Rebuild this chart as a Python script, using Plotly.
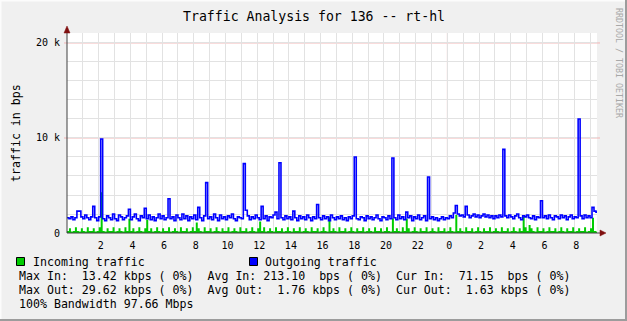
import plotly.graph_objects as go

# ---------------- data ----------------
# samples every 7.5 minutes (0.125 h), starting at midnight of day 1
outgoing_k = [
    1.6, 1.5, 1.7, 1.4, 1.6, 2.3, 2.3, 1.7,
    1.5, 1.9, 1.6, 1.4, 1.7, 2.8, 1.6, 1.3,
    1.7, 9.9, 1.5, 1.3, 1.8, 1.6, 1.4, 2.0,
    1.5, 1.3, 1.9, 1.7, 1.4, 1.6, 1.8, 2.5,
    1.4, 1.7, 2.0, 1.5, 1.3, 1.8, 1.6, 2.6,
    1.5, 1.9, 1.4, 1.7, 1.3, 1.6, 2.0, 1.5,
    1.8, 1.4, 1.6, 3.6, 1.5, 1.7, 1.3, 1.9,
    1.6, 1.4, 2.0, 1.5, 1.8, 1.3, 1.7, 1.5,
    1.9, 1.4, 2.7, 1.6, 1.3, 1.8, 5.3, 1.5,
    1.7, 1.4, 2.0, 1.6, 1.3, 1.9, 1.5, 1.7,
    1.4, 1.8, 1.6, 2.0, 1.5, 1.3, 1.7, 1.6,
    1.5, 7.3, 2.4, 1.8, 1.4, 1.7, 1.5, 1.9,
    1.6, 1.4, 2.8, 1.5, 1.8, 1.3, 1.7, 1.6,
    1.9, 2.2, 1.5, 7.4, 1.6, 1.4, 1.8, 1.5,
    1.7, 1.4, 2.3, 1.6, 1.3, 1.8, 1.5, 1.7,
    1.4, 1.9, 1.6, 1.3, 1.7, 1.5, 3.0, 1.6,
    1.4, 1.8, 1.5, 1.7, 1.3, 1.9, 1.6, 1.4,
    1.7, 1.5, 1.8, 1.4, 1.6, 1.3, 1.7, 1.5,
    1.8, 8.0, 1.5, 1.4, 1.7, 1.6, 1.3, 1.8,
    1.5, 1.7, 1.4, 1.6, 1.9, 1.5, 1.3, 1.7,
    1.6, 1.4, 1.8, 1.5, 7.9, 1.6, 1.4, 1.9,
    1.5, 1.7, 1.4, 2.2, 1.6, 1.8, 1.3, 1.7,
    1.5, 1.9, 1.4, 1.6, 1.8, 1.3, 5.9, 1.5,
    1.7, 1.4, 1.6, 1.3, 1.5, 1.7, 1.4, 1.6,
    1.5, 1.8, 1.6, 2.1, 2.9, 2.0, 1.8, 1.9,
    1.7, 2.8, 1.9, 1.6, 1.8, 2.0, 1.7, 1.9,
    1.6, 1.8, 2.0, 1.7, 1.9, 1.6, 1.8, 1.5,
    1.8, 1.6, 1.9, 1.7, 8.8, 1.8, 1.6, 1.9,
    1.7, 1.5, 1.8, 2.0, 1.6, 1.4, 1.8, 1.7,
    1.9, 1.6, 1.5, 1.8, 1.4, 1.7, 1.6, 3.4,
    1.6, 1.8, 1.5, 1.9, 1.6, 1.4, 1.8, 1.7,
    1.5, 1.9, 1.6, 1.8, 1.4, 1.7, 1.9, 1.5,
    1.7, 1.6, 12.0, 1.8, 1.5, 1.9, 1.6, 1.8,
    1.6, 2.7, 2.3, 2.2, 1.63,
]

incoming_k = [
    0.2, 0.5, 0.15, 0.2, 0.6, 0.2, 0.15, 0.5,
    0.2, 0.15, 0.6, 0.2, 0.2, 0.5, 0.15, 0.2,
    0.6, 4.3, 0.2, 0.15, 0.5, 0.2, 0.2, 0.6,
    0.15, 0.2, 0.5, 0.2, 0.15, 0.6, 0.2, 1.5,
    0.2, 0.5, 0.15, 0.2, 0.6, 0.2, 0.15, 0.5,
    1.4, 0.2, 0.5, 0.15, 0.2, 0.6, 0.2, 0.15,
    0.5, 0.2, 0.2, 0.6, 0.15, 0.2, 0.5, 0.2,
    0.15, 0.6, 0.2, 0.2, 0.5, 0.15, 0.2, 0.6,
    0.2, 1.1, 0.5, 0.2, 0.15, 0.6, 0.2, 0.2,
    0.5, 0.15, 0.2, 0.6, 0.2, 0.15, 0.5, 0.2,
    0.2, 0.6, 0.15, 0.2, 0.5, 0.2, 0.15, 0.6,
    0.2, 0.2, 0.5, 0.15, 0.2, 0.6, 0.2, 0.15,
    0.5, 1.2, 0.2, 0.6, 0.15, 0.2, 0.5, 0.2,
    0.15, 0.6, 0.2, 0.2, 0.5, 0.15, 0.2, 0.6,
    0.2, 0.15, 0.5, 0.2, 0.2, 0.6, 0.15, 0.2,
    0.5, 0.2, 0.15, 0.6, 0.2, 0.2, 0.5, 0.15,
    0.2, 0.6, 0.2, 0.15, 1.65, 0.2, 0.5, 0.2,
    0.15, 0.6, 0.2, 0.2, 0.5, 0.15, 0.2, 0.6,
    0.2, 0.15, 0.5, 0.2, 0.2, 0.6, 0.15, 0.2,
    0.5, 0.2, 0.15, 0.6, 0.2, 0.2, 0.5, 0.15,
    0.2, 0.6, 0.2, 0.15, 1.55, 0.2, 0.5, 0.2,
    0.15, 0.6, 0.2, 1.5, 0.5, 0.15, 0.2, 0.6,
    0.2, 0.15, 0.5, 0.2, 0.2, 0.6, 0.15, 0.2,
    0.5, 0.2, 0.15, 0.6, 0.2, 0.2, 0.5, 0.15,
    0.2, 0.6, 0.2, 0.15, 1.9, 0.2, 0.5, 0.2,
    0.15, 0.6, 0.2, 0.2, 0.5, 0.15, 0.2, 0.6,
    0.2, 0.15, 0.5, 0.2, 0.2, 0.6, 0.15, 0.2,
    0.5, 0.2, 0.15, 0.6, 0.2, 0.2, 0.5, 0.15,
    0.2, 0.6, 0.2, 0.15, 0.5, 0.2, 1.7, 0.6,
    0.2, 0.85, 0.5, 0.2, 0.15, 0.6, 0.2, 0.2,
    0.5, 0.15, 0.2, 0.6, 0.2, 0.2, 0.5, 0.15,
    0.2, 0.6, 0.2, 0.15, 0.5, 0.2, 0.2, 0.6,
    0.15, 0.2, 0.5, 0.2, 0.2, 0.6, 0.15, 0.2,
    0.5, 1.6, 0.2, 0.15, 0.07,
]

sample_step_h = 0.125
hours = [i * sample_step_h for i in range(len(outgoing_k))]

x_tick_hours = list(range(0, 34))
x_tick_text = [str(h % 24) if (h % 2 == 0 and h > 0) else "" for h in x_tick_hours]
y_tick_vals = [0, 2, 4, 6, 8, 10, 12, 14, 16, 18, 20]
y_tick_text = ["0", "", "", "", "", "10 k", "", "", "", "", "20 k"]

title = "Traffic Analysis for 136 -- rt-hl"
y_title = "traffic in bps"
legend_in = "Incoming traffic"
legend_out = "Outgoing traffic"
stat_lines = [
    "Max In:  13.42 kbps ( 0%)  Avg In: 213.10  bps ( 0%)  Cur In:  71.15  bps ( 0%)",
    "Max Out: 29.62 kbps ( 0%)  Avg Out:  1.76 kbps ( 0%)  Cur Out:  1.63 kbps ( 0%)",
    "100% Bandwidth 97.66 Mbps",
]
credit = "RRDTOOL / TOBI OETIKER"

# ---------------- layout geometry ----------------
W_FIG, H_FIG = 627, 321
L, R, T, B = 67, 597, 33, 233
PW, PH = R - L, B - T
X_MAX = 33.44
Y_MAX = 21.05

def px(x):
    return (x - L) / PW

def py(y):
    return (B - y) / PH

MONO = "DejaVu Sans Mono"
GREEN = "#00cc00"
BLUE = "#0000ff"
GRID = "#e2e2e2"
MGRID = "#f2b4b4"
ARROW = "#801010"
AXIS = "#404040"

def nb(s):
    return s.replace(" ", "\u00a0")

fig = go.Figure()
fig.add_trace(go.Scatter(
    x=hours, y=incoming_k, mode="lines", line=dict(shape="hv", width=0, color=GREEN),
    fill="tozeroy", fillcolor=GREEN, showlegend=False, hoverinfo="skip"))
fig.add_trace(go.Scatter(
    x=hours, y=outgoing_k, mode="lines", line=dict(shape="hv", width=1.6, color=BLUE),
    showlegend=False, hoverinfo="skip"))

shapes = []
# major grid lines
shapes.append(dict(type="line", xref="x", yref="paper", x0=24, x1=24, y0=0, y1=1,
                   line=dict(color=MGRID, width=1), layer="below"))
for yv in (10, 20):
    shapes.append(dict(type="line", xref="paper", yref="y", x0=px(64), x1=px(600), y0=yv, y1=yv,
                       line=dict(color=MGRID, width=1), layer="below"))
# axes with arrows
shapes.append(dict(type="line", xref="paper", yref="paper", x0=px(67), x1=px(601), y0=py(233), y1=py(233),
                   line=dict(color=AXIS, width=1)))
shapes.append(dict(type="line", xref="paper", yref="paper", x0=px(67), x1=px(67), y0=py(233), y1=py(30),
                   line=dict(color=AXIS, width=1)))
shapes.append(dict(type="path", xref="paper", yref="paper",
                   path=f"M {px(600)} {py(230)} L {px(606)} {py(233)} L {px(600)} {py(236)} Z",
                   fillcolor=ARROW, line=dict(color=ARROW, width=0.5)))
shapes.append(dict(type="path", xref="paper", yref="paper",
                   path=f"M {px(64)} {py(33)} L {px(67)} {py(26)} L {px(70)} {py(33)} Z",
                   fillcolor=ARROW, line=dict(color=ARROW, width=0.5)))
# legend squares
shapes.append(dict(type="rect", xref="paper", yref="paper", x0=px(16.5), x1=px(24.5), y0=py(265.5), y1=py(257.5),
                   fillcolor=GREEN, line=dict(color="#000000", width=1)))
shapes.append(dict(type="rect", xref="paper", yref="paper", x0=px(249.5), x1=px(257.5), y0=py(265.5), y1=py(257.5),
                   fillcolor=BLUE, line=dict(color="#000000", width=1)))
# frame
shapes.append(dict(type="rect", xref="paper", yref="paper", x0=px(0), x1=px(1.5), y0=py(0), y1=py(321),
                   fillcolor="#fcfcfc", line=dict(width=0)))
shapes.append(dict(type="rect", xref="paper", yref="paper", x0=px(0), x1=px(627), y0=py(0), y1=py(1.5),
                   fillcolor="#fcfcfc", line=dict(width=0)))
shapes.append(dict(type="rect", xref="paper", yref="paper", x0=px(625), x1=px(627), y0=py(0), y1=py(321),
                   fillcolor="#9c9c9c", line=dict(width=0)))
shapes.append(dict(type="rect", xref="paper", yref="paper", x0=px(0), x1=px(627), y0=py(319), y1=py(321),
                   fillcolor="#9c9c9c", line=dict(width=0)))

annotations = []
def txt(s, x, y, size, xanchor="left", color="#000000", angle=0):
    annotations.append(dict(text=nb(s), x=px(x), y=py(y), xref="paper", yref="paper",
                            xanchor=xanchor, yanchor="middle", showarrow=False, textangle=angle,
                            font=dict(family=MONO, size=size, color=color)))

txt(title, 313.5, 17, 13.2, xanchor="center")
txt(y_title, 16, 133, 11.6, xanchor="center", angle=-90)
txt(credit, 619, 63, 8.3, xanchor="center", color="#a8a8a8", angle=90)
txt(legend_in, 31, 261.5, 11.6)
txt(legend_out, 263, 261.5, 11.6)
for i, line in enumerate(stat_lines):
    txt(line, 16.5, 275.5 + 14 * i, 11.6)

fig.update_layout(
    width=W_FIG, height=H_FIG,
    margin=dict(l=L, r=W_FIG - R, t=T, b=H_FIG - B, pad=0),
    paper_bgcolor="#f0f0f0", plot_bgcolor="#ffffff",
    shapes=shapes, annotations=annotations,
    xaxis=dict(range=[0, X_MAX], tickmode="array", tickvals=x_tick_hours, ticktext=x_tick_text,
               showgrid=True, gridcolor=GRID, gridwidth=1, zeroline=False, showline=False,
               ticks="", ticklabelstandoff=5, ticklabelshift=2, tickangle=0,
               tickfont=dict(family=MONO, size=10, color="#000000"), fixedrange=True),
    yaxis=dict(range=[0, Y_MAX], tickmode="array", tickvals=y_tick_vals, ticktext=y_tick_text,
               showgrid=True, gridcolor=GRID, gridwidth=1, zeroline=False, showline=False,
               ticks="", ticklabelstandoff=6,
               tickfont=dict(family=MONO, size=10, color="#000000"), fixedrange=True),
    showlegend=False,
)

fig.write_html("out.html", config={"displayModeBar": False})
